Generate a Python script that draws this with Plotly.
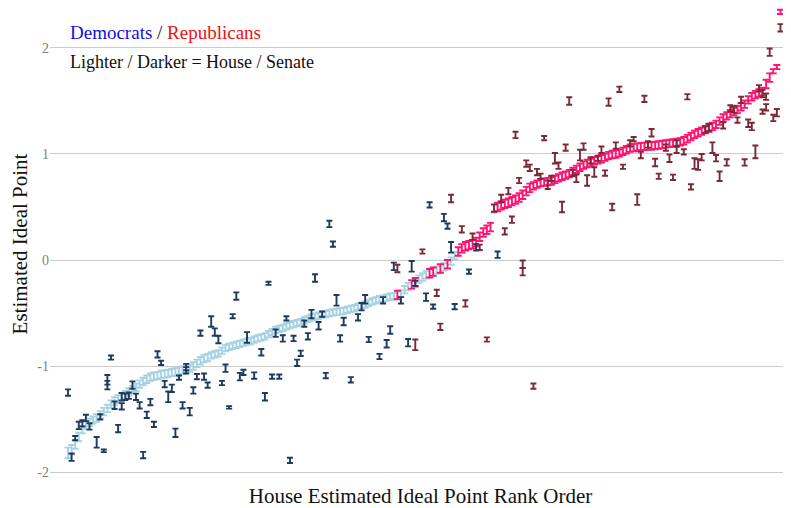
import numpy as np
import plotly.graph_objects as go

# ---------------- House (sorted ideal points) ----------------
house_dem_ideal = [
    -1.82, -1.79, -1.74, -1.67, -1.60, -1.56, -1.53, -1.51, -1.49, -1.46,
    -1.43, -1.40, -1.36, -1.33, -1.31, -1.29, -1.27, -1.245, -1.225, -1.20,
    -1.17, -1.145, -1.125, -1.105, -1.095, -1.09, -1.08, -1.075, -1.07, -1.06,
    -1.055, -1.045, -1.04, -1.03, -1.02, -1.00, -0.975, -0.95, -0.93, -0.92,
    -0.90, -0.89, -0.88, -0.855, -0.83, -0.82, -0.81, -0.80, -0.79, -0.78,
    -0.77, -0.765, -0.75, -0.74, -0.73, -0.72, -0.70, -0.68, -0.66, -0.65,
    -0.64, -0.625, -0.615, -0.605, -0.595, -0.585, -0.57, -0.555, -0.54, -0.535,
    -0.525, -0.515, -0.51, -0.50, -0.495, -0.49, -0.485, -0.48, -0.47, -0.46,
    -0.455, -0.44, -0.43, -0.42, -0.405, -0.39, -0.38, -0.37, -0.365, -0.355,
    -0.345, -0.34, -0.315, -0.28, -0.25, -0.18, -0.16, -0.14, -0.095, -0.065,
    -0.01, 0.04, 0.48,
]
house_dem_err = [
    0.05, 0.045, 0.04, 0.04, 0.035, 0.035, 0.035, 0.035, 0.035, 0.035,
    0.035, 0.035, 0.035, 0.035, 0.035, 0.035, 0.035, 0.035, 0.035, 0.035,
    0.035, 0.035, 0.035, 0.035, 0.035, 0.035, 0.035, 0.035, 0.035, 0.035,
    0.035, 0.035, 0.035, 0.035, 0.035, 0.035, 0.035, 0.035, 0.035, 0.035,
    0.03, 0.03, 0.03, 0.03, 0.03, 0.03, 0.03, 0.03, 0.03, 0.03,
    0.03, 0.03, 0.03, 0.03, 0.03, 0.03, 0.03, 0.03, 0.03, 0.03,
    0.03, 0.03, 0.03, 0.03, 0.03, 0.03, 0.03, 0.03, 0.03, 0.03,
    0.03, 0.03, 0.03, 0.03, 0.03, 0.03, 0.03, 0.03, 0.03, 0.03,
    0.03, 0.03, 0.03, 0.03, 0.03, 0.03, 0.03, 0.03, 0.03, 0.03,
    0.03, 0.03, 0.03, 0.035, 0.035, 0.035, 0.035, 0.035, 0.035, 0.035,
    0.035, 0.035, 0.035,
]
house_rep_ideal = [
    -0.33, -0.23, -0.21, -0.125, -0.11, -0.08, -0.04,
    0.08, 0.11, 0.13, 0.14, 0.15, 0.17, 0.22, 0.26, 0.285, 0.31,
    0.50, 0.515, 0.53, 0.54, 0.555, 0.57, 0.59, 0.615, 0.65, 0.68,
    0.70, 0.715, 0.73, 0.735, 0.74, 0.745, 0.76, 0.775, 0.79, 0.80,
    0.815, 0.835, 0.855, 0.875, 0.895, 0.91, 0.92, 0.935, 0.945, 0.955,
    0.97, 0.985, 0.995, 1.00, 1.01, 1.025, 1.04, 1.055, 1.06, 1.065,
    1.07, 1.072, 1.075, 1.078, 1.08, 1.085, 1.09, 1.095, 1.10, 1.105,
    1.11, 1.115, 1.125, 1.145, 1.165, 1.185, 1.20, 1.215, 1.23, 1.245,
    1.26, 1.28, 1.31, 1.34, 1.36, 1.38, 1.40, 1.42, 1.445, 1.47,
    1.51, 1.54, 1.56, 1.575, 1.59, 1.66, 1.72, 1.78, 1.82, 2.34,
]
house_rep_err = [
    0.04, 0.04, 0.04, 0.04, 0.04, 0.04, 0.04,
    0.04, 0.04, 0.04, 0.04, 0.04, 0.04, 0.04, 0.04, 0.04, 0.04,
    0.04, 0.04, 0.04, 0.04, 0.04, 0.04, 0.04, 0.04, 0.04, 0.04,
    0.035, 0.035, 0.035, 0.035, 0.035, 0.035, 0.035, 0.035, 0.035, 0.035,
    0.035, 0.035, 0.035, 0.035, 0.035, 0.035, 0.035, 0.035, 0.035, 0.035,
    0.035, 0.035, 0.035, 0.035, 0.035, 0.035, 0.035, 0.035, 0.035, 0.035,
    0.035, 0.035, 0.035, 0.035, 0.035, 0.035, 0.035, 0.035, 0.035, 0.035,
    0.035, 0.035, 0.035, 0.035, 0.035, 0.035, 0.035, 0.035, 0.035, 0.035,
    0.035, 0.035, 0.035, 0.035, 0.035, 0.035, 0.035, 0.035, 0.035, 0.035,
    0.035, 0.035, 0.035, 0.035, 0.035, 0.04, 0.04, 0.02, 0.02, 0.02,
]

# ---------------- Senate (placed on the House rank scale) ----------------
sen_dem_rank = [
    1, 2, 3, 4, 5, 6, 7, 9, 10, 11,
    12, 12, 13, 14, 15, 16, 16, 17, 18, 19,
    20, 21, 22, 23, 24, 25, 26, 27, 28, 29,
    30, 31, 32, 33, 34, 34, 35, 36, 37, 38,
    39, 40, 41, 42, 43, 44, 45, 46, 47, 48,
    49, 50, 51, 53, 55, 56, 57, 58, 59, 60,
    61, 62, 63, 64, 65, 66, 67, 68, 69, 70,
    71, 72, 73, 74, 75, 76, 77, 78, 80, 82,
    83, 84, 85, 88, 89, 90, 91, 92, 94, 96,
    97, 98, 101, 102, 103, 106, 107, 108, 109, 113,
    115, 121,
]
sen_dem_ideal = [
    -1.25, -1.86, -1.68, -1.56, -1.54, -1.49, -1.57, -1.72, -1.48, -1.80,
    -1.13, -1.18, -0.92, -1.37, -1.59, -1.29, -1.38, -1.29, -1.28, -1.18,
    -1.29, -1.37, -1.84, -1.46, -1.34, -1.55, -0.89, -0.97, -1.17, -1.29,
    -1.21, -1.63, -1.11, -1.37, -1.04, -1.01, -1.43, -1.23, -1.10, -0.69,
    -1.10, -1.18, -0.58, -0.68, -0.75, -1.16, -1.02, -1.39, -0.53, -0.34,
    -1.10, -1.06, -0.73, -1.09, -0.87, -1.29, -0.22, -1.10, -0.69, -1.10,
    -0.74, -0.55, -1.89, -0.74, -0.97, -0.88, -0.60, -0.72, -0.51, -0.17,
    -0.62, -0.51, -1.09, 0.34, 0.15, -0.38, -0.74, -0.58, -1.13, -0.54,
    -0.44, -0.37, -0.75, -0.91, -0.38, -0.79, -0.66, -0.06, -0.38, -0.78,
    -0.06, -0.22, -0.35, 0.52, -0.44, 0.40, 0.32, 0.12, -0.44, -0.11,
    0.12, 0.05,
]
sen_dem_err = [
    0.03, 0.035, 0.02, 0.035, 0.03, 0.03, 0.03, 0.05, 0.025, 0.012,
    0.045, 0.04, 0.02, 0.035, 0.035, 0.035, 0.03, 0.03, 0.03, 0.035,
    0.03, 0.03, 0.03, 0.03, 0.03, 0.025, 0.03, 0.02, 0.03, 0.05,
    0.035, 0.04, 0.02, 0.03, 0.03, 0.03, 0.035, 0.03, 0.025, 0.025,
    0.03, 0.025, 0.05, 0.035, 0.035, 0.02, 0.035, 0.012, 0.02, 0.035,
    0.035, 0.025, 0.05, 0.03, 0.03, 0.035, 0.015, 0.02, 0.035, 0.02,
    0.03, 0.02, 0.025, 0.025, 0.03, 0.025, 0.03, 0.03, 0.04, 0.035,
    0.035, 0.025, 0.025, 0.03, 0.025, 0.05, 0.03, 0.035, 0.025, 0.03,
    0.035, 0.04, 0.025, 0.025, 0.03, 0.035, 0.035, 0.035, 0.03, 0.035,
    0.05, 0.025, 0.035, 0.025, 0.02, 0.035, 0.025, 0.05, 0.025, 0.02,
    0.03, 0.03,
]
sen_rep_rank = [
    93, 98, 100, 104, 105, 108, 111, 112, 114, 116,
    118, 120, 122, 123, 124, 125, 126, 127, 128, 128,
    129, 130, 131, 132, 133, 134, 135, 136, 137, 138,
    139, 140, 141, 142, 143, 144, 145, 146, 147, 148,
    149, 150, 151, 152, 153, 154, 155, 156, 158, 159,
    160, 161, 162, 163, 164, 165, 166, 168, 169, 170,
    171, 171, 173, 174, 175, 176, 177, 178, 179, 180,
    181, 182, 183, 184, 185, 186, 187, 188, 189, 190,
    191, 192, 193, 194, 195, 195, 196, 196, 197, 198,
    199, 200,
]
sen_rep_ideal = [
    -0.08, -0.80, 0.08, -0.31, -0.63, 0.58, 0.29, -0.41, 0.22, 0.12,
    -0.75, 0.49, 0.58, 0.27, 0.65, 0.38, 1.18, 0.75, -0.04, -0.11,
    0.91, 0.87, -1.19, 0.83, 0.79, 1.15, 0.71, 0.77, 0.96, 0.89,
    0.50, 1.06, 1.50, 0.82, 0.77, 0.99, 1.07, 0.75, 0.94, 0.83,
    0.96, 1.04, 0.82, 1.49, 0.50, 1.08, 1.61, 0.88, 1.10, 1.14,
    0.57, 0.99, 1.52, 1.09, 1.20, 0.92, 0.79, 1.06, 0.96, 0.78,
    1.10, 1.04, 1.02, 1.54, 0.69, 0.91, 0.90, 0.97, 1.23, 1.25,
    1.06, 0.96, 0.79, 1.27, 0.92, 1.43, 1.42, 1.32, 1.51, 0.92,
    1.29, 1.26, 1.02, 1.62, 1.57, 1.40, 1.54, 1.44, 1.96, 1.34,
    1.39, 2.19,
]
sen_rep_err = [
    0.035, 0.05, 0.02, 0.03, 0.03, 0.035, 0.03, 0.03, 0.03, 0.025,
    0.02, 0.035, 0.035, 0.03, 0.03, 0.03, 0.03, 0.025, 0.035, 0.035,
    0.03, 0.03, 0.025, 0.03, 0.025, 0.02, 0.04, 0.025, 0.05, 0.03,
    0.05, 0.03, 0.035, 0.03, 0.035, 0.05, 0.03, 0.05, 0.03, 0.045,
    0.025, 0.03, 0.025, 0.035, 0.03, 0.03, 0.025, 0.02, 0.03, 0.02,
    0.05, 0.03, 0.03, 0.03, 0.035, 0.035, 0.025, 0.03, 0.035, 0.025,
    0.03, 0.03, 0.025, 0.025, 0.025, 0.05, 0.05, 0.03, 0.03, 0.035,
    0.05, 0.03, 0.045, 0.03, 0.03, 0.03, 0.03, 0.025, 0.03, 0.03,
    0.035, 0.035, 0.06, 0.03, 0.035, 0.02, 0.03, 0.03, 0.035, 0.03,
    0.035, 0.035,
]

y_ticks = [-2, -1, 0, 1, 2]
y_tick_text = ["-2", "-1", "0", "1", "2"]

# rank order of House members from their estimated ideal points
all_house = np.array(house_dem_ideal + house_rep_ideal)
order = np.argsort(all_house, kind="stable")
ranks = np.empty(len(all_house), dtype=int)
ranks[order] = np.arange(1, len(all_house) + 1)
dem_rank = ranks[:len(house_dem_ideal)]
rep_rank = ranks[len(house_dem_ideal):]

SERIF = "Liberation Serif, Times New Roman, serif"


def bars(x, y, err, color, cap, thick):
    return go.Scatter(
        x=x, y=y, mode="markers",
        marker=dict(size=1, color="rgba(0,0,0,0)"),
        error_y=dict(type="data", array=err, visible=True, color=color,
                     thickness=thick, width=cap),
        hoverinfo="skip", showlegend=False,
    )


fig = go.Figure()
fig.add_trace(bars(dem_rank, house_dem_ideal, house_dem_err, "#a6d2e4", 3.5, 1.9))
fig.add_trace(bars(rep_rank, house_rep_ideal, house_rep_err, "#ff1470", 3.5, 1.9))
fig.add_trace(bars(sen_dem_rank, sen_dem_ideal, sen_dem_err, "#1d3a5f", 3, 1.9))
fig.add_trace(bars(sen_rep_rank, sen_rep_ideal, sen_rep_err, "#7a2a36", 3, 1.9))

# page body keeps an 8 px margin, so the figure is 783 x 500
fig.update_layout(
    width=783, height=500,
    margin=dict(l=42, r=0, t=0, b=28),
    paper_bgcolor="white", plot_bgcolor="white",
    font=dict(family=SERIF),
    xaxis=dict(
        range=[-4.03, 202.95], showgrid=False, zeroline=False, showline=False,
        showticklabels=False, ticks="",
        title=dict(text="House Estimated Ideal Point Rank Order",
                   font=dict(family=SERIF, size=21, color="#111111"), standoff=8),
    ),
    yaxis=dict(
        range=[-2.075, 2.377], tickvals=y_ticks, ticktext=y_tick_text,
        showgrid=True, gridcolor="#cccccc", gridwidth=1.2, zeroline=False,
        showline=False, ticks="",
        tickfont=dict(family=SERIF, size=14, color="#808080"),
        title=dict(text="Estimated Ideal Point",
                   font=dict(family=SERIF, size=21, color="#111111"), standoff=14),
    ),
    annotations=[
        dict(xref="paper", yref="paper", x=0.0243, y=(472 - 25) / 472, xanchor="left",
             yanchor="middle", showarrow=False,
             font=dict(family=SERIF, size=19, color="#111111"),
             text="<span style='color:#1010e6'>Democrats</span> / "
                  "<span style='color:#ee1111'>Republicans</span>"),
        dict(xref="paper", yref="paper", x=0.0243, y=(472 - 54) / 472, xanchor="left",
             yanchor="middle", showarrow=False,
             font=dict(family=SERIF, size=18, color="#111111"),
             text="Lighter / Darker = House / Senate"),
    ],
)

fig.write_html("out.html")
